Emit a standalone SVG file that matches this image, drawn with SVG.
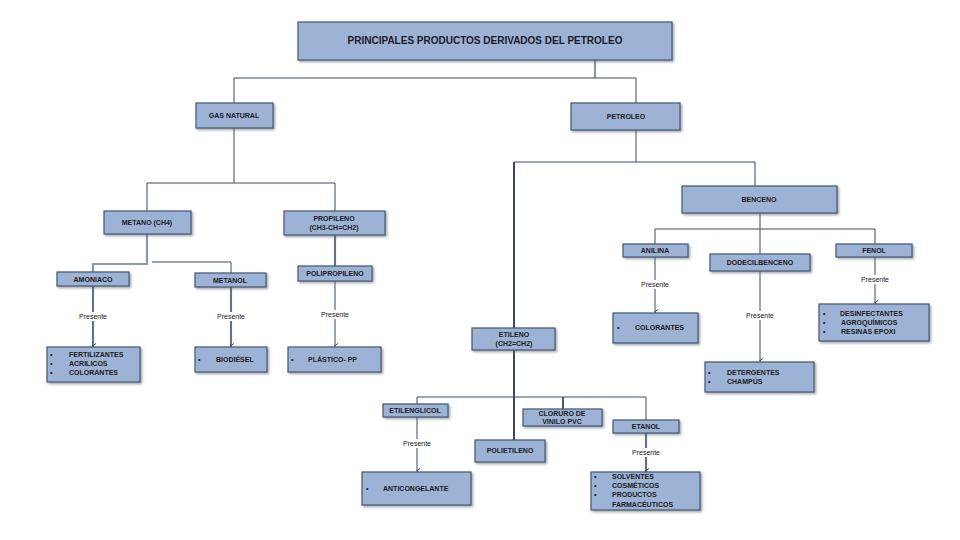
<svg xmlns="http://www.w3.org/2000/svg" width="960" height="540" viewBox="0 0 960 540">
<defs>
<marker id="arr" markerWidth="6" markerHeight="6" refX="3" refY="5" orient="auto" markerUnits="userSpaceOnUse" viewBox="0 0 6 6">
<path d="M0.5,2 L3,5.5 L5.5,2" fill="none" stroke="#3d4a5e" stroke-width="1"/>
</marker>
<filter id="sh" x="-10%" y="-10%" width="130%" height="150%">
<feDropShadow dx="1.5" dy="1.5" stdDeviation="0.8" flood-color="#5a6478" flood-opacity="0.6"/>
</filter>
</defs>
<style>
.box{fill:#9db3d5;stroke:#46566f;stroke-width:1.2;filter:url(#sh)}
.t{font-family:"Liberation Sans",Arial,sans-serif;font-weight:bold;font-size:7px;fill:#1a1a22}
.tt{font-family:"Liberation Sans",Arial,sans-serif;font-weight:bold;font-size:10px;fill:#1a1a22}
.c{text-anchor:middle}
.ln{fill:none;stroke:#3d4a5e;stroke-width:1}
.lg{fill:none;stroke:#8c97a8;stroke-width:2.2}
.lb{fill:#ffffff}
.p{font-family:"Liberation Sans",Arial,sans-serif;font-size:7px;fill:#1a1a22;text-anchor:middle}
</style>
<rect width="960" height="540" fill="#ffffff"/>
<g id="connectors">
<path class="lg" d="M595,60 V78"/>
<path class="ln" d="M234,103 V78 H636 V103"/>
<path class="ln" d="M234,128 V183"/>
<path class="ln" d="M147,211 V183 H335 V211"/>
<path class="lg" d="M147,234 V264 H93 V272"/>
<path class="ln" d="M152,262 H231 V273"/>
<path class="lg" d="M335,235 V266"/>
<path class="ln" d="M335,235 V266"/>
<path class="lg" d="M93,286 V347"/>
<path class="ln" d="M93,286 V346" marker-end="url(#arr)"/>
<path class="lg" d="M231,287 V347"/>
<path class="ln" d="M231,287 V346" marker-end="url(#arr)"/>
<path class="ln" d="M335,281 V346" marker-end="url(#arr)"/>
<path class="ln" d="M636,130 V162"/>
<path class="ln" d="M755,186 V162 H514"/>
<path class="ln" style="stroke-width:2" d="M514,162 V328"/>
<path class="ln" style="stroke-width:2" d="M514,350 V440"/>
<path class="ln" d="M417,404 V397 H646 V420"/>
<path class="ln" style="stroke-width:1.8" d="M563,397 V409"/>
<path class="ln" d="M760,213 V229"/>
<path class="ln" d="M655,244 V229 H875 V244"/>
<path class="ln" d="M760,229 V254"/>
<path class="ln" d="M655,257 V312" marker-end="url(#arr)"/>
<path class="ln" d="M760,271 V361" marker-end="url(#arr)"/>
<path class="ln" d="M875,257 V303" marker-end="url(#arr)"/>
<path class="ln" d="M417,417 V471" marker-end="url(#arr)"/>
<path class="lg" d="M646,433 V472"/>
<path class="ln" d="M646,433 V471" marker-end="url(#arr)"/>
<g id="labels">
<rect class="lb" x="75" y="312" width="36" height="9"/><text class="p" x="93" y="319">Presente</text>
<rect class="lb" x="213" y="312" width="36" height="9"/><text class="p" x="231" y="319">Presente</text>
<rect class="lb" x="317" y="310" width="36" height="9"/><text class="p" x="335" y="317">Presente</text>
<rect class="lb" x="637" y="280" width="36" height="9"/><text class="p" x="655" y="287">Presente</text>
<rect class="lb" x="742" y="311" width="36" height="9"/><text class="p" x="760" y="318">Presente</text>
<rect class="lb" x="857" y="275" width="36" height="9"/><text class="p" x="875" y="282">Presente</text>
<rect class="lb" x="399" y="439" width="36" height="9"/><text class="p" x="417" y="446">Presente</text>
<rect class="lb" x="628" y="448" width="36" height="9"/><text class="p" x="646" y="455">Presente</text>
</g>
</g>
<g id="title"><rect class="box" x="298" y="22" width="374" height="38"/><text class="tt c" x="485" y="44">PRINCIPALES PRODUCTOS DERIVADOS DEL PETROLEO</text></g>
<g id="gas"><rect class="box" x="196" y="103" width="77" height="25"/><text class="t c" x="234" y="118">GAS NATURAL</text></g>
<g id="petroleo"><rect class="box" x="571" y="103" width="109" height="27"/><text class="t c" x="626" y="119">PETROLEO</text></g>
<g id="metano"><rect class="box" x="104" y="211" width="87" height="23"/><text class="t c" x="147" y="225">METANO (CH4)</text></g>
<g id="propileno"><rect class="box" x="284" y="211" width="101" height="24"/><text class="t c" x="334" y="221">PROPILENO</text><text class="t c" x="334" y="230">(CH3-CH=CH2)</text></g>
<g id="amoniaco"><rect class="box" x="57" y="272" width="72" height="14"/><text class="t c" x="93" y="282">AMONIACO</text></g>
<g id="metanol"><rect class="box" x="195" y="273" width="71" height="14"/><text class="t c" x="230" y="283">METANOL</text></g>
<g id="polipropileno"><rect class="box" x="298" y="266" width="74" height="15"/><text class="t c" x="335" y="276">POLIPROPILENO</text></g>
<g id="fertilizantes"><rect class="box" x="47" y="347" width="93" height="35"/>
<text class="t" x="50" y="357">•</text><text class="t" x="69" y="357">FERTILIZANTES</text>
<text class="t" x="50" y="366">•</text><text class="t" x="69" y="366">ACRILICOS</text>
<text class="t" x="50" y="375">•</text><text class="t" x="69" y="375">COLORANTES</text></g>
<g id="biodiesel"><rect class="box" x="195" y="347" width="72" height="25"/><text class="t" x="198" y="362">•</text><text class="t" x="216" y="362">BIODIÉSEL</text></g>
<g id="plastico"><rect class="box" x="288" y="347" width="93" height="25"/><text class="t" x="291" y="362">•</text><text class="t" x="308" y="362">PLÁSTICO- PP</text></g>
<g id="benceno"><rect class="box" x="682" y="186" width="155" height="27"/><text class="t c" x="759" y="202">BENCENO</text></g>
<g id="anilina"><rect class="box" x="623" y="244" width="65" height="13"/><text class="t c" x="655" y="253">ANILINA</text></g>
<g id="dodecilbenceno"><rect class="box" x="710" y="254" width="100" height="17"/><text class="t c" x="760" y="265">DODECILBENCENO</text></g>
<g id="fenol"><rect class="box" x="836" y="244" width="76" height="13"/><text class="t c" x="874" y="253">FENOL</text></g>
<g id="colorantes"><rect class="box" x="613" y="313" width="85" height="30"/><text class="t" x="617" y="330">•</text><text class="t" x="635" y="330">COLORANTES</text></g>
<g id="detergentes"><rect class="box" x="705" y="362" width="109" height="30"/>
<text class="t" x="708" y="375">•</text><text class="t" x="727" y="375">DETERGENTES</text>
<text class="t" x="708" y="384">•</text><text class="t" x="727" y="384">CHAMPÚS</text></g>
<g id="desinfectantes"><rect class="box" x="819" y="304" width="110" height="37"/>
<text class="t" x="823" y="316">•</text><text class="t" x="840" y="316">DESINFECTANTES</text>
<text class="t" x="823" y="325">•</text><text class="t" x="841" y="325">AGROQUÍMICOS</text>
<text class="t" x="823" y="334">•</text><text class="t" x="841" y="334">RESINAS EPOXI</text></g>
<g id="etileno"><rect class="box" x="472" y="328" width="83" height="22"/><text class="t c" x="514" y="337">ETILENO</text><text class="t c" x="514" y="346">(CH2=CH2)</text></g>
<g id="etilenglicol"><rect class="box" x="383" y="404" width="65" height="13"/><text class="t c" x="415" y="413">ETILENGLICOL</text></g>
<g id="cloruro"><rect class="box" x="523" y="409" width="79" height="17"/><text class="t c" x="562" y="416">CLORURO DE</text><text class="t c" x="562" y="424">VINILO PVC</text></g>
<g id="etanol"><rect class="box" x="613" y="420" width="66" height="13"/><text class="t c" x="646" y="429">ETANOL</text></g>
<g id="polietileno"><rect class="box" x="475" y="440" width="70" height="22"/><text class="t c" x="510" y="453">POLIETILENO</text></g>
<g id="anticongelante"><rect class="box" x="362" y="472" width="109" height="33"/><text class="t" x="366" y="491">•</text><text class="t" x="383" y="491">ANTICONGELANTE</text></g>
<g id="solventes"><rect class="box" x="591" y="472" width="109" height="38"/>
<text class="t" x="594" y="479">•</text><text class="t" x="612" y="479">SOLVENTES</text>
<text class="t" x="594" y="488">•</text><text class="t" x="612" y="488">COSMÉTICOS</text>
<text class="t" x="594" y="497">•</text><text class="t" x="612" y="497">PRODUCTOS</text>
<text class="t" x="612" y="507">FARMACÉUTICOS</text></g>
</svg>
